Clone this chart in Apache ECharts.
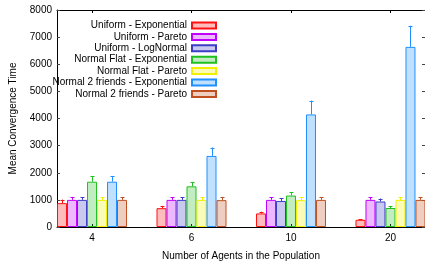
<!DOCTYPE html>
<html>
<head>
<meta charset="utf-8">
<script src="https://cdn.jsdelivr.net/npm/echarts@6/dist/echarts.min.js"></script>
<style>html,body{margin:0;padding:0;background:#fff}#c{width:425px;height:266px}</style>
</head>
<body>
<div id="c"></div>
<script>
var categories = ['4', '6', '10', '20'];
var seriesNames = ['Uniform - Exponential', 'Uniform - Pareto', 'Uniform - LogNormal', 'Normal Flat - Exponential', 'Normal Flat - Pareto', 'Normal 2 friends - Exponential', 'Normal 2 friends - Pareto'];
var uniformExponential = [880, 694, 500, 265];
var uniformPareto = [1000, 1000, 1000, 1000];
var uniformLogNormal = [1000, 1000, 960, 940];
var normalFlatExponential = [1670, 1500, 1160, 700];
var normalFlatPareto = [1000, 1000, 990, 1000];
var normal2Exponential = [1670, 2620, 4150, 6640];
var normal2Pareto = [1000, 990, 1000, 1000];
var errUniformExponential = [130, 85, 60, 25];
var errUniformPareto = [110, 100, 100, 100];
var errUniformLogNormal = [100, 90, 110, 110];
var errNormalFlatExponential = [210, 160, 130, 75];
var errNormalFlatPareto = [100, 100, 110, 100];
var errNormal2Exponential = [210, 310, 510, 780];
var errNormal2Pareto = [100, 110, 100, 100];

var values = [uniformExponential, uniformPareto, uniformLogNormal, normalFlatExponential, normalFlatPareto, normal2Exponential, normal2Pareto];
var errors = [errUniformExponential, errUniformPareto, errUniformLogNormal, errNormalFlatExponential, errNormalFlatPareto, errNormal2Exponential, errNormal2Pareto];
var colors = ['#ff1010', '#c000ff', '#3c3cc8', '#20c020', '#f0f000', '#1e90ff', '#c05020'];
var BW = 10;
function hexA(h, a) {
  var r = parseInt(h.substr(1, 2), 16), g = parseInt(h.substr(3, 2), 16), b = parseInt(h.substr(5, 2), 16);
  return 'rgba(' + r + ',' + g + ',' + b + ',' + a + ')';
}
var catIdx = categories.map(function (c, i) { return i; });
var series = [];
seriesNames.forEach(function (name, s) {
  series.push({
    name: name, type: 'bar', barWidth: BW, barGap: '0%', xAxisIndex: 0, yAxisIndex: 0,
    itemStyle: { color: hexA(colors[s], 0.28), borderColor: colors[s], borderWidth: 1 },
    data: catIdx.map(function (i) { return [i, values[s][i]]; }),
    z: 2
  });
});
seriesNames.forEach(function (name, s) {
  series.push({
    name: name, type: 'custom', xAxisIndex: 0, yAxisIndex: 0, z: 3,
    data: catIdx.map(function (i) { return [i, values[s][i], errors[s][i]]; }),
    renderItem: function (params, api) {
      var x = api.value(0), v = api.value(1), e = api.value(2);
      var p1 = api.coord([x, v]), p2 = api.coord([x, v + e]);
      var off = (s - 3) * BW;
      var cx = Math.round(p1[0] + off) + 0.5;
      return { type: 'group', children: [
        { type: 'line', shape: { x1: cx, y1: p1[1], x2: cx, y2: p2[1] }, style: { stroke: colors[s], lineWidth: 1 } },
        { type: 'line', shape: { x1: cx - 2, y1: Math.round(p2[1]) + 0.5, x2: cx + 2, y2: Math.round(p2[1]) + 0.5 }, style: { stroke: colors[s], lineWidth: 1 } }
      ] };
    }
  });
});
var xMin = -0.352, xMax = 3.347;
var font = 'Liberation Sans, Arial, sans-serif';
var chart = echarts.init(document.getElementById('c'), null, { renderer: 'canvas' });
chart.setOption({
  animation: false,
  textStyle: { fontFamily: font },
  grid: { left: 57, right: 0, top: 10, bottom: 37 },
  legend: {
    data: seriesNames, orient: 'vertical', align: 'right', right: 203, top: 15,
    itemWidth: 24, itemHeight: 6, itemGap: 0.4, icon: 'rect',
    textStyle: { fontFamily: font, fontSize: 10, color: '#000', lineHeight: 11 },
    selectedMode: false
  },
  xAxis: [{
    type: 'value', min: xMin, max: xMax, position: 'bottom',
    name: 'Number of Agents in the Population', nameLocation: 'middle', nameGap: 24,
    nameTextStyle: { fontFamily: font, fontSize: 10, color: '#000' },
    axisLine: { show: true, onZero: false, lineStyle: { color: '#000', width: 1 } },
    axisTick: { show: true, inside: true, length: 3, customValues: catIdx, lineStyle: { color: '#000' } },
    axisLabel: { customValues: catIdx, margin: 6, fontFamily: font, fontSize: 10, color: '#000',
      formatter: function (v) { return categories[Math.round(v)]; } },
    splitLine: { show: false }
  }, {
    type: 'value', min: xMin, max: xMax, position: 'top',
    axisLine: { show: true, onZero: false, lineStyle: { color: '#000', width: 1 } },
    axisTick: { show: true, inside: true, length: 3, customValues: catIdx, lineStyle: { color: '#000' } },
    axisLabel: { show: false }, splitLine: { show: false }
  }],
  yAxis: [{
    type: 'value', min: 0, max: 8000, interval: 1000, position: 'left',
    name: 'Mean Convergence Time', nameLocation: 'middle', nameGap: 39,
    nameTextStyle: { fontFamily: font, fontSize: 10, color: '#000' },
    axisLine: { show: true, onZero: false, lineStyle: { color: '#000', width: 1 } },
    axisTick: { show: true, inside: true, length: 3, lineStyle: { color: '#444' } },
    axisLabel: { margin: 5, fontFamily: font, fontSize: 10, color: '#000',
      formatter: function (v) { return String(v); } },
    splitLine: { show: false }
  }, {
    type: 'value', min: 0, max: 8000, interval: 1000, position: 'right',
    axisLine: { show: false, onZero: false },
    axisTick: { show: true, inside: true, length: 3, lineStyle: { color: '#444' } },
    axisLabel: { show: false }, splitLine: { show: false }
  }],
  series: series
});
</script>
</body>
</html>
